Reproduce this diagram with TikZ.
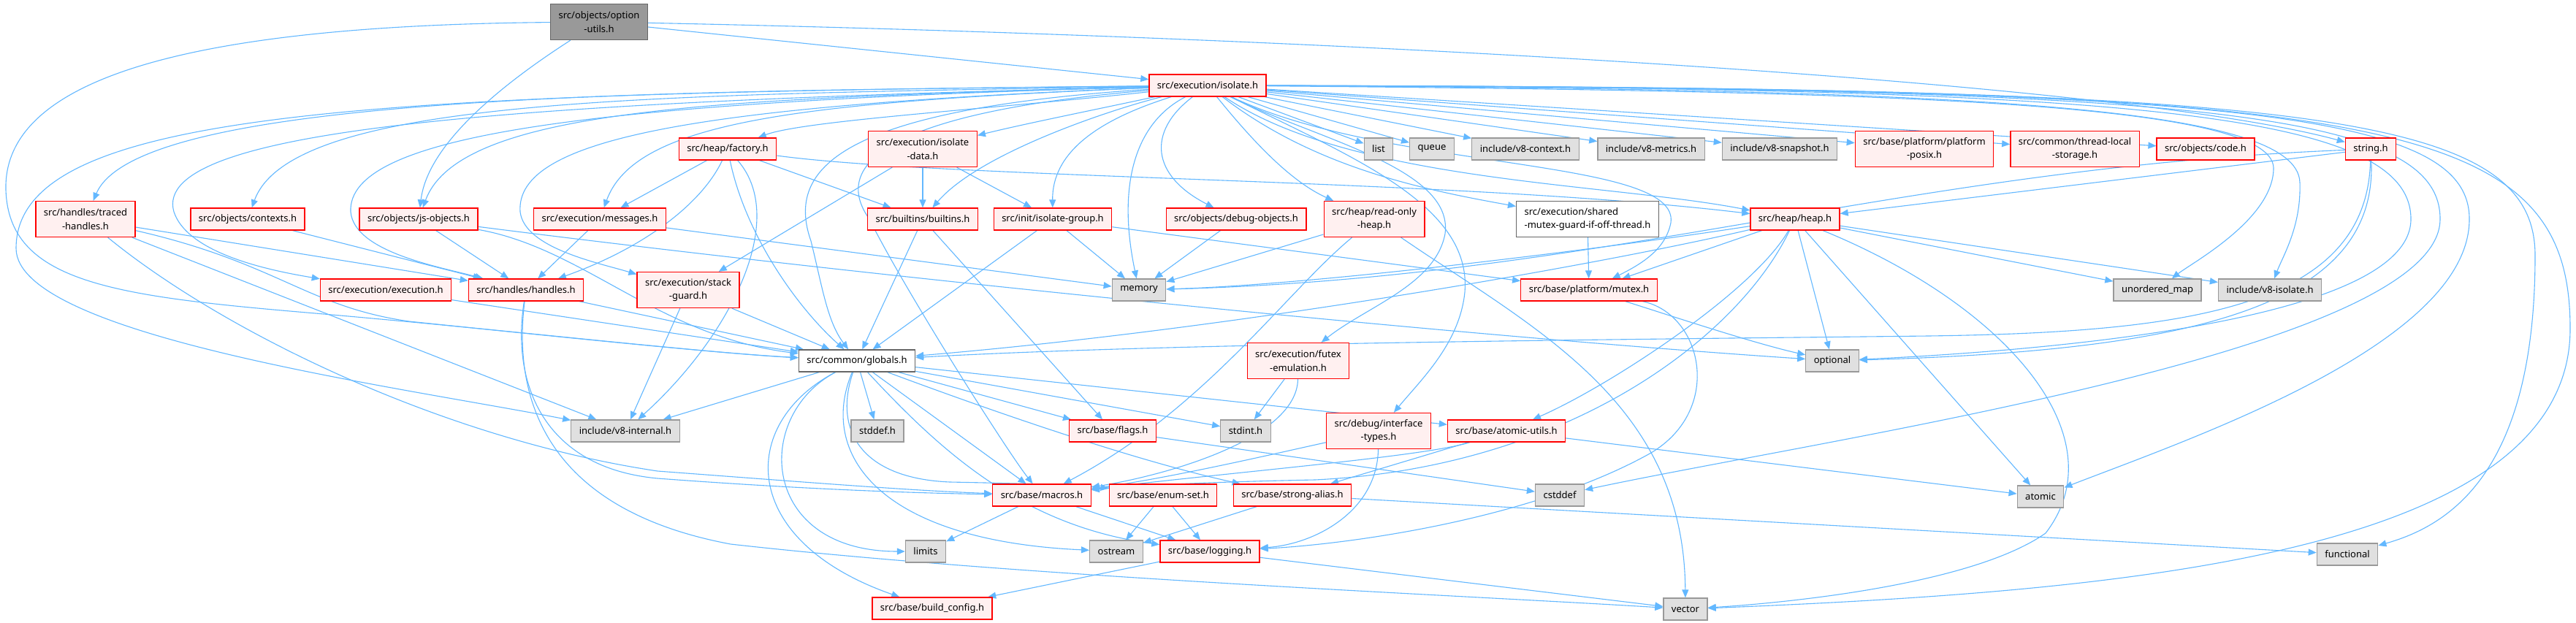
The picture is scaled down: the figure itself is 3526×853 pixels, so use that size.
\documentclass[tikz,border=0pt]{standalone}
\usepackage{fontspec}
\setmainfont{Noto Sans}
\usetikzlibrary{arrows.meta}
\definecolor{edgec}{HTML}{63B8FF}
\definecolor{redb}{HTML}{FF0000}
\definecolor{redf}{HTML}{FFF0F0}
\definecolor{grayb}{HTML}{999999}
\definecolor{grayf}{HTML}{E0E0E0}
\definecolor{rootb}{HTML}{666666}
\definecolor{rootf}{HTML}{999999}
\definecolor{whiteb}{HTML}{666666}
\pgfdeclarelayer{bg}
\pgfdeclarelayer{edges}
\pgfsetlayers{bg,edges,main}
\begin{document}
\begin{tikzpicture}[x=1pt,y=-1pt,
 nb/.style={rectangle, line width=1.3pt, font=\fontsize{13}{18.5}\selectfont, align=center, inner xsep=11pt, inner ysep=0pt, minimum height=30pt, text=black},
 rn/.style={nb, draw=redb, fill=redf},
 gn/.style={nb, draw=grayb, fill=grayf},
 wn/.style={nb, draw=whiteb, fill=white},
 on/.style={nb, draw=rootb, fill=rootf},
 two/.style={minimum height=49pt},
 e/.style={draw=edgec, line width=1.1pt, -{Triangle[length=11pt,width=9pt]}}]
\begin{pgfonlayer}{bg}
\fill[white] (0,0) rectangle (3526,853);
\end{pgfonlayer}
\useasboundingbox (0,0) rectangle (3526,853);
% nodes
\node[on,two] (ou) at (820,30) {src/objects/option\\-utils.h};
\node[rn] (iso) at (1653,117) {src/execution/isolate.h};
\node[rn,two] (th) at (117,300) {src/handles/traced\\-handles.h};
\node[rn] (ctx) at (339,300) {src/objects/contexts.h};
\node[rn] (jso) at (573,300) {src/objects/js-objects.h};
\node[rn] (msg) at (821,300) {src/execution/messages.h};
\node[rn] (fac) at (996,204) {src/heap/factory.h};
\node[rn,two] (isd) at (1263,204) {src/execution/isolate\\-data.h};
\node[rn] (blt) at (1263,300) {src/builtins/builtins.h};
\node[rn] (isg) at (1441,300) {src/init/isolate-group.h};
\node[rn] (dbg) at (1692,300) {src/objects/debug-objects.h};
\node[rn,two] (roh) at (1881,300) {src/heap/read-only\\-heap.h};
\node[wn,two,align=left] (smg) at (2173,300) {src/execution/shared\\-mutex-guard-if-off-thread.h};
\node[rn] (heap) at (2457,300) {src/heap/heap.h};
\node[gn] (list) at (1887,204) {list};
\node[gn] (queue) at (1960,204) {queue};
\node[gn] (v8ctx) at (2088,204) {include/v8-context.h};
\node[gn] (v8met) at (2260,204) {include/v8-metrics.h};
\node[gn] (v8snap) at (2436,204) {include/v8-snapshot.h};
\node[rn,two] (posix) at (2634,204) {src/base/platform/platform\\-posix.h};
\node[rn,two] (tls) at (2840,204) {src/common/thread-local\\-storage.h};
\node[rn] (code) at (3019,204) {src/objects/code.h};
\node[rn] (str) at (3245,204) {string.h};
\node[rn] (exe) at (528,397) {src/execution/execution.h};
\node[rn] (hdl) at (720,397) {src/handles/handles.h};
\node[rn,two] (stk) at (942,397) {src/execution/stack\\-guard.h};
\node[gn] (mem) at (1559,397) {memory};
\node[rn] (mtx) at (2175,397) {src/base/platform/mutex.h};
\node[gn] (umap) at (2953,397) {unordered\_map};
\node[gn] (v8iso) at (3107,397) {include/v8-isolate.h};
\node[wn] (glb) at (1173,494) {src/common/globals.h};
\node[rn,two] (fut) at (1777,494) {src/execution/futex\\-emulation.h};
\node[gn] (opt) at (2508,494) {optional};
\node[gn] (v8int) at (856,590) {include/v8-internal.h};
\node[gn] (stddef) at (1201,590) {stddef.h};
\node[rn] (flags) at (1523,590) {src/base/flags.h};
\node[gn] (stdint) at (1705,590) {stdint.h};
\node[rn,two] (ift) at (1887,590) {src/debug/interface\\-types.h};
\node[rn] (atu) at (2062,590) {src/base/atomic-utils.h};
\node[rn] (mac) at (1426,678) {src/base/macros.h};
\node[rn] (ens) at (1592,678) {src/base/enum-set.h};
\node[rn] (sal) at (1769,678) {src/base/strong-alias.h};
\node[gn] (cstddef) at (2135,678) {cstddef};
\node[gn] (atomic) at (2793,680) {atomic};
\node[gn] (limits) at (1267,755) {limits};
\node[gn] (ostream) at (1528,755) {ostream};
\node[rn] (log) at (1656,755) {src/base/logging.h};
\node[gn] (functional) at (3213,759) {functional};
\node[rn] (bcfg) at (1276,833) {src/base/build\_config.h};
\node[gn] (vector) at (2307,834) {vector};
% edges
\begin{pgfonlayer}{edges}
% option-utils
\draw[e] (ou) -- (iso);
\draw[e] (ou) .. controls (680,120) and (585,200) .. (jso);
\draw[e] (ou) .. controls (1800,50) and (2900,110) .. (str);
\draw[e] (ou) .. controls (250,35) and (4,110) .. (8,260) .. controls (12,385) and (150,405) .. (420,428) .. controls (700,452) and (950,482) .. (glb);
% isolate.h to the left
\draw[e] (iso) .. controls (900,125) and (190,128) .. (th);
\draw[e] (iso) .. controls (500,128) and (22,150) .. (22,340) .. controls (22,460) and (550,530) .. (v8int);
\draw[e] (iso) .. controls (900,130) and (400,132) .. (ctx);
\draw[e] (iso) .. controls (700,140) and (205,175) .. (238,290) .. controls (258,350) and (380,372) .. (exe);
\draw[e] (iso) .. controls (1000,135) and (630,145) .. (jso);
\draw[e] (iso) .. controls (800,140) and (475,185) .. (480,290) .. controls (485,345) and (600,365) .. (hdl);
\draw[e] (iso) .. controls (1100,140) and (870,165) .. (msg);
\draw[e] (iso) .. controls (950,145) and (705,190) .. (712,290) .. controls (718,340) and (820,360) .. (stk);
\draw[e] (iso) .. controls (1350,150) and (1100,165) .. (fac);
\draw[e] (iso) .. controls (1500,150) and (1400,170) .. (isd);
\draw[e] (iso) .. controls (1520,150) and (1340,210) .. (blt);
\draw[e] (iso) .. controls (1500,165) and (1440,210) .. (isg);
\draw[e] (iso) .. controls (1550,170) and (1530,260) .. (mem);
\draw[e] (iso) .. controls (1150,150) and (1075,230) .. (1110,330) .. controls (1125,390) and (1132,440) .. (glb);
\draw[e] (iso) .. controls (1200,155) and (1140,230) .. (1190,300) .. controls (1240,400) and (1380,620) .. (mac);
\draw[e] (iso) .. controls (1570,180) and (1575,240) .. (dbg);
% isolate.h to the right
\draw[e] (iso) .. controls (1720,200) and (1770,250) .. (roh);
\draw[e] (iso) .. controls (1800,190) and (1990,230) .. (1978,320) .. controls (1965,390) and (1870,420) .. (fut);
\draw[e] (iso) .. controls (1850,215) and (2015,280) .. (2005,400) .. controls (1998,470) and (1945,520) .. (ift);
\draw[e] (iso) .. controls (1800,230) and (1950,260) .. (smg);
\draw[e] (iso) .. controls (1850,250) and (2200,250) .. (heap);
\draw[e] (iso) .. controls (1900,235) and (2300,215) .. (2287,305) .. controls (2280,340) and (2250,360) .. (mtx);
\draw[e] (iso) -- (list);
\draw[e] (iso) -- (queue);
\draw[e] (iso) -- (v8ctx);
\draw[e] (iso) -- (v8met);
\draw[e] (iso) -- (v8snap);
\draw[e] (iso) -- (posix);
\draw[e] (iso) -- (tls);
\draw[e] (iso) -- (code);
\draw[e] (iso) .. controls (2600,125) and (3110,140) .. (3112,230) .. controls (3112,300) and (3000,360) .. (umap);
\draw[e] (iso) .. controls (2700,122) and (3145,145) .. (3148,250) .. controls (3150,310) and (3125,350) .. (v8iso);
\draw[e] (iso) .. controls (2900,120) and (3300,150) .. (3300,300) .. controls (3300,440) and (2800,480) .. (opt);
\draw[e] (iso) .. controls (3000,120) and (3340,150) .. (3340,300) .. controls (3340,480) and (2500,600) .. (cstddef);
\draw[e] (iso) .. controls (3050,120) and (3380,150) .. (3380,300) .. controls (3380,470) and (3000,600) .. (atomic);
\draw[e] (iso) .. controls (3150,120) and (3470,150) .. (3470,350) .. controls (3470,650) and (3350,720) .. (functional);
\draw[e] (iso) .. controls (3250,120) and (3518,150) .. (3518,450) .. controls (3518,760) and (2900,810) .. (vector);
% traced-handles
\draw[e] (th) -- (hdl);
\draw[e] (th) .. controls (380,360) and (420,420) .. (560,440) .. controls (800,465) and (1000,485) .. (glb);
\draw[e] (th) -- (v8int);
\draw[e] (th) .. controls (300,450) and (600,600) .. (900,645) .. controls (1100,660) and (1250,672) .. (mac);
% contexts, js-objects, messages
\draw[e] (ctx) -- (hdl);
\draw[e] (jso) -- (hdl);
\draw[e] (jso) .. controls (800,340) and (900,460) .. (glb);
\draw[e] (jso) .. controls (1200,380) and (2000,460) .. (opt);
\draw[e] (msg) -- (hdl);
\draw[e] (msg) -- (mem);
% factory
\draw[e] (fac) -- (msg);
\draw[e] (fac) .. controls (960,280) and (880,340) .. (hdl);
\draw[e] (fac) .. controls (1020,320) and (1090,420) .. (glb);
\draw[e] (fac) -- (blt);
\draw[e] (fac) .. controls (1300,245) and (2000,245) .. (heap);
\draw[e] (fac) .. controls (1080,300) and (1000,460) .. (v8int);
% isolate-data, builtins, isolate-group, debug-objects
\draw[e] (isd) -- (blt);
\draw[e] (isd) -- (isg);
\draw[e] (isd) -- (stk);
\draw[e] (blt) -- (glb);
\draw[e] (blt) -- (flags);
\draw[e] (isg) -- (glb);
\draw[e] (isg) -- (mem);
\draw[e] (isg) -- (mtx);
\draw[e] (dbg) -- (mem);
% read-only-heap, shared mutex
\draw[e] (roh) -- (mem);
\draw[e] (roh) .. controls (1760,400) and (1650,560) .. (mac);
\draw[e] (roh) .. controls (2100,450) and (2305,550) .. (vector);
\draw[e] (smg) -- (mtx);
% heap
\draw[e] (heap) .. controls (2200,340) and (1800,390) .. (mem);
\draw[e] (heap) .. controls (2200,360) and (1700,450) .. (glb);
\draw[e] (heap) -- (mtx);
\draw[e] (heap) .. controls (2380,460) and (2150,640) .. (1800,657) .. controls (1650,660) and (1550,665) .. (mac);
\draw[e] (heap) .. controls (2400,400) and (2200,530) .. (atu);
\draw[e] (heap) -- (opt);
\draw[e] (heap) -- (atomic);
\draw[e] (heap) .. controls (2750,420) and (2900,600) .. (2800,730) .. controls (2700,800) and (2450,825) .. (vector);
\draw[e] (heap) -- (umap);
\draw[e] (heap) -- (v8iso);
% string.h
\draw[e] (str) -- (heap);
\draw[e] (str) .. controls (2600,230) and (2200,380) .. (mem);
\draw[e] (str) .. controls (3240,420) and (3000,455) .. (2640,460) .. controls (2200,465) and (1600,470) .. (glb);
\draw[e] (str) .. controls (3255,420) and (3000,480) .. (opt);
% execution, handles, stack-guard
\draw[e] (exe) -- (glb);
\draw[e] (hdl) -- (glb);
\draw[e] (hdl) .. controls (700,520) and (740,640) .. (900,655) .. controls (1100,670) and (1250,675) .. (mac);
\draw[e] (hdl) .. controls (700,560) and (760,700) .. (1000,745) .. controls (1400,790) and (2000,815) .. (vector);
\draw[e] (stk) -- (v8int);
\draw[e] (stk) -- (glb);
% globals
\draw[e] (glb) -- (v8int);
\draw[e] (glb) -- (stddef);
\draw[e] (glb) -- (flags);
\draw[e] (glb) -- (stdint);
\draw[e] (glb) -- (mac);
\draw[e] (glb) .. controls (1140,590) and (1180,655) .. (1300,660) .. controls (1400,662) and (1480,664) .. (ens);
\draw[e] (glb) .. controls (1350,560) and (1550,630) .. (sal);
\draw[e] (glb) .. controls (1030,570) and (1040,755) .. (limits);
\draw[e] (glb) .. controls (1120,620) and (1200,740) .. (ostream);
\draw[e] (glb) .. controls (1290,620) and (1400,720) .. (log);
\draw[e] (glb) .. controls (1010,580) and (1010,740) .. (bcfg);
\draw[e] (glb) -- (atu);
% futex, interface-types, atomic-utils
\draw[e] (fut) -- (stdint);
\draw[e] (fut) .. controls (1775,600) and (1600,650) .. (mac);
\draw[e] (ift) .. controls (1750,620) and (1600,655) .. (mac);
\draw[e] (ift) .. controls (1885,700) and (1800,745) .. (log);
\draw[e] (atu) -- (sal);
\draw[e] (atu) .. controls (1950,625) and (1700,645) .. (mac);
\draw[e] (atu) -- (atomic);
\draw[e] (flags) -- (cstddef);
% base
\draw[e] (mac) -- (limits);
\draw[e] (mac) -- (log);
\draw[e] (ens) -- (ostream);
\draw[e] (ens) -- (log);
\draw[e] (sal) -- (ostream);
\draw[e] (sal) -- (functional);
\draw[e] (log) -- (bcfg);
\draw[e] (log) -- (vector);
\draw[e] (mtx) .. controls (2330,430) and (2360,560) .. (2260,620) .. controls (2100,710) and (1850,745) .. (log);
\draw[e] (mtx) .. controls (2280,430) and (2400,470) .. (opt);
\end{pgfonlayer}
\end{tikzpicture}
\end{document}
